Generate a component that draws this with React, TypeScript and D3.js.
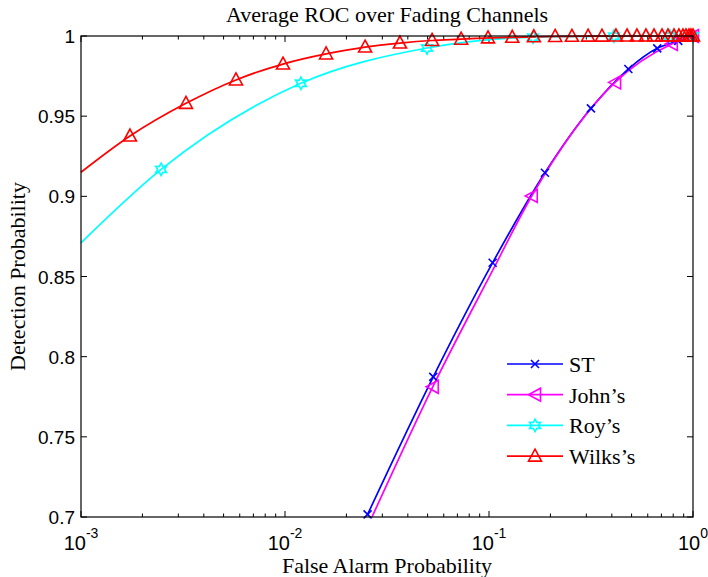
import React from "react";
import * as d3 from "d3";

// ---- data ----
const xTickExps = [-3, -2, -1, 0];
const yTicks = [0.7, 0.75, 0.8, 0.85, 0.9, 0.95, 1];
const yTickLabels = ["0.7", "0.75", "0.8", "0.85", "0.9", "0.95", "1"];

const seriesNames = ["ST", "John's", "Roy's", "Wilks's"];
const seriesColors = ["#0000ff", "#ff00ff", "#00ffff", "#ff0000"];

// ST (blue, x markers)
const stPfa = [0.0254, 0.0533, 0.1042, 0.188, 0.316, 0.482, 0.668, 0.847, 1.0];
const stPd = [0.7016, 0.7874, 0.8586, 0.9147, 0.9549, 0.9794, 0.9923, 0.997, 1.0];
const stMarkPfa = stPfa;
const stMarkPd = stPd;

// John's (magenta, left triangles)
const johnPfa = [0.0267, 0.053, 0.1042, 0.162, 0.415, 0.787, 1.0];
const johnPd = [0.7, 0.7812, 0.8538, 0.9002, 0.9711, 0.995, 1.0];
const johnMarkPfa = [0.053, 0.162, 0.415, 0.787, 1.0];
const johnMarkPd = [0.7812, 0.9002, 0.9711, 0.995, 1.0];

// Roy's (cyan, hexagrams)
const royMarkPfa = [0.00247, 0.01197, 0.0497, 0.1644, 0.41, 0.771, 1.0];
const royMarkPd = [0.9168, 0.9705, 0.9925, 0.9993, 0.9999, 1.0, 1.0];
const royPfa = [0.001, ...royMarkPfa];
const royPd = [0.871, ...royMarkPd];

// Wilks's (red, up triangles)
const wilksMarkPfa = [
  0.001738, 0.00327, 0.00575, 0.00978, 0.0159, 0.0247, 0.0366, 0.0526, 0.073,
  0.0989, 0.13, 0.166, 0.211, 0.255, 0.306, 0.358, 0.419, 0.475, 0.531, 0.588,
  0.644, 0.705, 0.754, 0.807, 0.853, 0.893, 0.924, 0.956, 0.977, 1.0,
];
const wilksMarkPd = [
  0.9376, 0.958, 0.9726, 0.9825, 0.9888, 0.9931, 0.9956, 0.9972, 0.998,
  0.9988, 0.9992, 0.9995, 0.9997, 0.9998, 0.9999, 0.9999, 1, 1, 1, 1,
  1, 1, 1, 1, 1, 1, 1, 1, 1, 1,
];
const wilksPfa = [0.001, ...wilksMarkPfa];
const wilksPd = [0.915, ...wilksMarkPd];

// ---- layout ----
const W = 708;
const H = 577;
const L = 81, R = 693, T = 36, B = 517;

const x = d3.scaleLog().domain([1e-3, 1]).range([L, R]);
const y = d3.scaleLinear().domain([0.7, 1]).range([B, T]);

const line = d3
  .line<[number, number]>()
  .x((d) => x(d[0]))
  .y((d) => y(d[1]))
  .curve(d3.curveMonotoneX);

const zip = (a: number[], b: number[]) => a.map((v, i) => [v, b[i]] as [number, number]);

const hexagram = (() => {
  const pts: string[] = [];
  for (let i = 0; i < 12; i++) {
    const r = i % 2 === 0 ? 6.2 : 3.4;
    const a = -Math.PI / 2 + (i * Math.PI) / 6;
    pts.push(`${(r * Math.cos(a)).toFixed(2)},${(r * Math.sin(a)).toFixed(2)}`);
  }
  return "M" + pts.join("L") + "Z";
})();

const markerPaths = [
  "M-4,-4L4,4M-4,4L4,-4",
  "M-6.5,0L5.5,-6.5L5.5,6.5Z",
  hexagram,
  "M0,-7L6.5,5L-6.5,5Z",
];

const lineSets = [
  zip(stPfa, stPd),
  zip(johnPfa, johnPd),
  zip(royPfa, royPd),
  zip(wilksPfa, wilksPd),
];
const markSets = [
  zip(stMarkPfa, stMarkPd),
  zip(johnMarkPfa, johnMarkPd),
  zip(royMarkPfa, royMarkPd),
  zip(wilksMarkPfa, wilksMarkPd),
];

const minorTicks: number[] = [];
for (const e of [-3, -2, -1]) {
  for (let m = 2; m <= 9; m++) minorTicks.push(m * Math.pow(10, e));
}

const sans = "'Liberation Sans', Arial, Helvetica, sans-serif";
const serif = "'Liberation Serif', 'Times New Roman', serif";

export default function App() {
  return (
    <svg
      width={W}
      height={H}
      style={{ position: "absolute", left: 0, top: 0, background: "#fff" }}
    >
      <rect x={0} y={0} width={W} height={H} fill="#fff" />
      {/* title */}
      <text x={(L + R) / 2} y={22} textAnchor="middle" fontFamily={serif} fontSize={22}>
        Average ROC over Fading Channels
      </text>
      {/* axis labels */}
      <text x={(L + R) / 2} y={573} textAnchor="middle" fontFamily={serif} fontSize={22}>
        False Alarm Probability
      </text>
      <text
        transform={`translate(25,${(T + B) / 2}) rotate(-90)`}
        textAnchor="middle"
        fontFamily={serif}
        fontSize={22}
      >
        Detection Probability
      </text>

      {/* ticks */}
      <g stroke="#000" strokeWidth={1}>
        {yTicks.map((t) => (
          <g key={"y" + t}>
            <line x1={L} x2={L + 6} y1={y(t)} y2={y(t)} />
            <line x1={R} x2={R - 6} y1={y(t)} y2={y(t)} />
          </g>
        ))}
        {xTickExps.map((e) => {
          const v = Math.pow(10, e);
          return (
            <g key={"x" + e}>
              <line x1={x(v)} x2={x(v)} y1={B} y2={B - 6} />
              <line x1={x(v)} x2={x(v)} y1={T} y2={T + 6} />
            </g>
          );
        })}
        {minorTicks.map((v) => (
          <g key={"m" + v}>
            <line x1={x(v)} x2={x(v)} y1={B} y2={B - 3.5} />
            <line x1={x(v)} x2={x(v)} y1={T} y2={T + 3.5} />
          </g>
        ))}
      </g>

      {/* tick labels */}
      {yTicks.map((t, i) => (
        <text
          key={"yl" + t}
          x={L - 6}
          y={y(t) + 7}
          textAnchor="end"
          fontFamily={sans}
          fontSize={19}
        >
          {yTickLabels[i]}
        </text>
      ))}
      {xTickExps.map((e) => (
        <text
          key={"xl" + e}
          x={x(Math.pow(10, e))}
          y={550}
          textAnchor="middle"
          fontFamily={sans}
          fontSize={20}
        >
          10
          <tspan dy={-12} fontSize={14}>
            {e === 0 ? "0" : "-" + Math.abs(e)}
          </tspan>
        </text>
      ))}

      {/* series lines and markers */}
      {lineSets.map((pts, i) => (
        <path
          key={"l" + i}
          d={line(pts) || ""}
          fill="none"
          stroke={seriesColors[i]}
          strokeWidth={1.7}
        />
      ))}
      {markSets.map((pts, i) => (
        <g key={"mk" + i}>
          {pts.map((p, j) => (
            <path
              key={j}
              transform={`translate(${x(p[0])},${y(p[1])})`}
              d={markerPaths[i]}
              fill="none"
              stroke={seriesColors[i]}
              strokeWidth={1.6}
            />
          ))}
        </g>
      ))}

      {/* axes box */}
      <rect x={L} y={T} width={R - L} height={B - T} fill="none" stroke="#000" strokeWidth={1.2} />

      {/* legend */}
      {seriesNames.map((name, i) => {
        const yy = 364 + i * 30.7;
        return (
          <g key={"lg" + i}>
            <line x1={507} x2={563} y1={yy} y2={yy} stroke={seriesColors[i]} strokeWidth={1.7} />
            <path
              transform={`translate(535,${yy})`}
              d={markerPaths[i]}
              fill="none"
              stroke={seriesColors[i]}
              strokeWidth={1.6}
            />
            <text x={569} y={yy + 8} fontFamily={serif} fontSize={22}>
              {name.replace("'", "\u2019")}
            </text>
          </g>
        );
      })}
    </svg>
  );
}
